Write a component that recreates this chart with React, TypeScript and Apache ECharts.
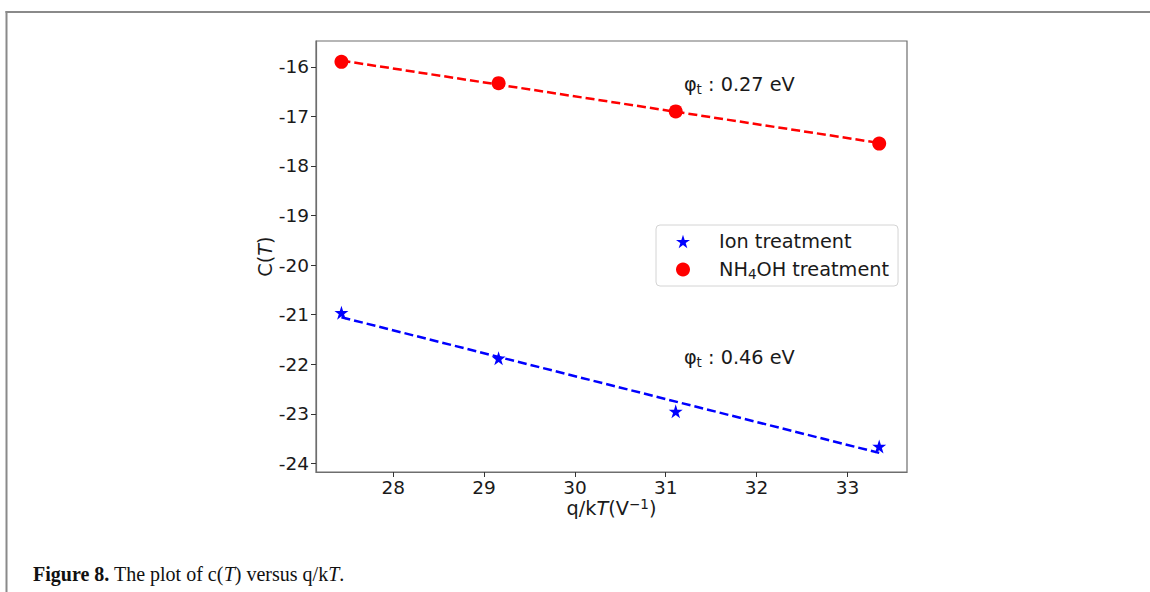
import React, { useEffect, useRef } from "react";
import * as echarts from "echarts";

// Temperatures 348, 373, 398, 423 K expressed as q/kT (V^-1)
const qOverKT = [27.43, 29.16, 31.11, 33.35];
const ionC = [-20.96, -21.88, -22.95, -23.66];
const nh4ohC = [-15.9, -16.33, -16.9, -17.55];

const xTicks = [28, 29, 30, 31, 32, 33];
const yTicks = [-24, -23, -22, -21, -20, -19, -18, -17, -16];

const seriesNames = ["Ion treatment", "NH4OH treatment"];
const barrierLabels = ["0.27 eV", "0.46 eV"];
// text anchors (data coordinates, left / baseline)
const barrierAnchorX = [31.2, 31.2];
const barrierAnchorY = [-16.5, -22.0];

const FONT = "DejaVu Sans";
const SERIF = "Liberation Serif";
const INK = "#1a1a1a";
const SPINE = "#6e6e6e";
const TICK_SIZE = 18.5;
const TEXT_SIZE = 19.3;
const STAR =
  "path://M0,-10L2.245,-3.09L9.511,-3.09L3.633,1.18L5.878,8.09L0,3.82L-5.878,8.09L-3.633,1.18L-9.511,-3.09L-2.245,-3.09Z";

// ordinary least-squares line over the measured points
function fitLine(xs: number[], ys: number[]): number[][] {
  const n = xs.length;
  const mx = xs.reduce((a, b) => a + b, 0) / n;
  const my = ys.reduce((a, b) => a + b, 0) / n;
  let sxy = 0;
  let sxx = 0;
  for (let i = 0; i < n; i++) {
    sxy += (xs[i] - mx) * (ys[i] - my);
    sxx += (xs[i] - mx) * (xs[i] - mx);
  }
  const b = sxy / sxx;
  const a = my - b * mx;
  return [
    [xs[0], a + b * xs[0]],
    [xs[n - 1], a + b * xs[n - 1]],
  ];
}

const pairs = (ys: number[]) => qOverKT.map((x, i) => [x, ys[i]]);

export default function App() {
  const ref = useRef<HTMLDivElement>(null);

  useEffect(() => {
    const el = ref.current;
    if (!el) return;
    const chart = echarts.init(el, undefined, { renderer: "svg" });

    chart.setOption({
      animation: false,
      backgroundColor: "#ffffff",
      grid: {
        left: 316,
        top: 41,
        right: 243,
        bottom: 120,
        show: true,
        borderColor: SPINE,
        borderWidth: 1.2,
        backgroundColor: "transparent",
        containLabel: false,
        outerBoundsMode: "none",
      },
      xAxis: {
        type: "value",
        min: 27.15,
        max: 33.656,
        splitLine: { show: false },
        axisLine: { show: true, onZero: false, lineStyle: { color: SPINE, width: 1.2 } },
        axisTick: { show: true, length: 5, customValues: xTicks, lineStyle: { color: "#333" } },
        axisLabel: { customValues: xTicks, fontFamily: FONT, fontSize: TICK_SIZE, color: INK, margin: 6 },
        name: "q/k{i|T}(V{sup|\u22121})",
        nameLocation: "middle",
        nameGap: 25,
        nameMoveOverlap: false,
        nameTextStyle: {
          fontFamily: FONT,
          fontSize: TEXT_SIZE,
          lineHeight: 23,
          color: INK,
          rich: {
            i: { fontFamily: FONT, fontSize: TEXT_SIZE, lineHeight: 23, fontStyle: "italic", color: INK },
            sup: { fontFamily: FONT, fontSize: 13.5, lineHeight: 13, verticalAlign: "top", color: INK },
          },
        },
      },
      yAxis: {
        type: "value",
        min: -24.175,
        max: -15.48,
        splitLine: { show: false },
        axisLine: { show: true, onZero: false, lineStyle: { color: SPINE, width: 1.2 } },
        axisTick: { show: true, length: 5, customValues: yTicks, lineStyle: { color: "#333" } },
        axisLabel: { customValues: yTicks, fontFamily: FONT, fontSize: TICK_SIZE, color: INK, margin: 7 },
        name: "C({i|T})",
        nameLocation: "middle",
        nameGap: 39,
        nameMoveOverlap: false,
        nameTextStyle: {
          fontFamily: FONT,
          fontSize: TEXT_SIZE,
          lineHeight: 23,
          color: INK,
          rich: {
            i: { fontFamily: FONT, fontSize: TEXT_SIZE, lineHeight: 23, fontStyle: "italic", color: INK },
          },
        },
      },
      legend: {
        show: true,
        orient: "vertical",
        left: 656,
        top: 225,
        padding: [5, 9, 5, 20],
        itemWidth: 14,
        itemHeight: 14,
        itemGap: 5,
        selectedMode: false,
        backgroundColor: "rgba(255,255,255,0.85)",
        borderColor: "#d4d4d4",
        borderWidth: 1,
        borderRadius: 4,
        data: [
          { name: seriesNames[0], icon: STAR },
          { name: seriesNames[1], icon: "circle" },
        ],
        formatter: (name: string) =>
          name === seriesNames[1] ? "NH{sub|4}OH treatment" : name,
        textStyle: {
          fontFamily: FONT,
          fontSize: TEXT_SIZE,
          lineHeight: 23,
          color: INK,
          padding: [0, 0, 0, 24],
          rich: {
            sub: { fontFamily: FONT, fontSize: 13.5, lineHeight: 13, verticalAlign: "bottom", color: INK },
          },
        },
      },
      series: [
        {
          name: "ion-fit",
          type: "line",
          data: fitLine(qOverKT, ionC),
          symbol: "none",
          lineStyle: { color: "#0000ff", width: 2.5, type: [9, 4] },
          z: 2,
          silent: true,
        },
        {
          name: "nh4oh-fit",
          type: "line",
          data: fitLine(qOverKT, nh4ohC),
          symbol: "none",
          lineStyle: { color: "#ff0000", width: 2.5, type: [9, 4] },
          z: 2,
          silent: true,
        },
        {
          name: seriesNames[0],
          type: "scatter",
          data: pairs(ionC),
          symbol: STAR,
          symbolSize: 14,
          itemStyle: { color: "#0000ff", opacity: 1 },
          z: 3,
        },
        {
          name: seriesNames[1],
          type: "scatter",
          data: pairs(nh4ohC),
          symbol: "circle",
          symbolSize: 14,
          itemStyle: { color: "#ff0000", opacity: 1 },
          z: 3,
        },
      ],
    });

    const annotations = barrierLabels.map((txt, i) => {
      const p = chart.convertToPixel({ gridIndex: 0 }, [barrierAnchorX[i], barrierAnchorY[i]]) as number[];
      return {
        type: "text",
        x: p[0],
        y: p[1] - 6.7,
        style: {
          text: "{m|\u03c6}{s|t}{m| : " + txt + "}",
          fill: INK,
          align: "left",
          verticalAlign: "middle",
          rich: {
            m: { fontFamily: FONT, fontSize: TEXT_SIZE, lineHeight: 23, fill: INK },
            s: { fontFamily: FONT, fontSize: 13.5, lineHeight: 13, verticalAlign: "bottom", fill: INK },
          },
        },
        z: 10,
      };
    });

    chart.setOption({
      graphic: [
        {
          type: "line",
          shape: { x1: 5.5, y1: 12, x2: 1150, y2: 12 },
          style: { stroke: "#8a8a8a", lineWidth: 2 },
        },
        {
          type: "line",
          shape: { x1: 6.5, y1: 11, x2: 6.5, y2: 592 },
          style: { stroke: "#8a8a8a", lineWidth: 2 },
        },
        {
          type: "text",
          x: 33,
          y: 573.5,
          style: {
            text: "{b|Figure 8.} The plot of c({i|T}) versus q/k{i|T}.",
            font: `20px "${SERIF}"`,
            fill: "#111",
            align: "left",
            verticalAlign: "middle",
            rich: {
              b: { fontFamily: SERIF, fontSize: 20, fontWeight: "bold", fill: "#111" },
              i: { fontFamily: SERIF, fontSize: 20, fontStyle: "italic", fill: "#111" },
            },
          },
        },
        ...annotations,
      ],
    });

    return () => {
      chart.dispose();
    };
  }, []);

  return (
    <div
      ref={ref}
      style={{ position: "fixed", left: 0, top: 0, width: 1150, height: 592, background: "#fff" }}
    />
  );
}
